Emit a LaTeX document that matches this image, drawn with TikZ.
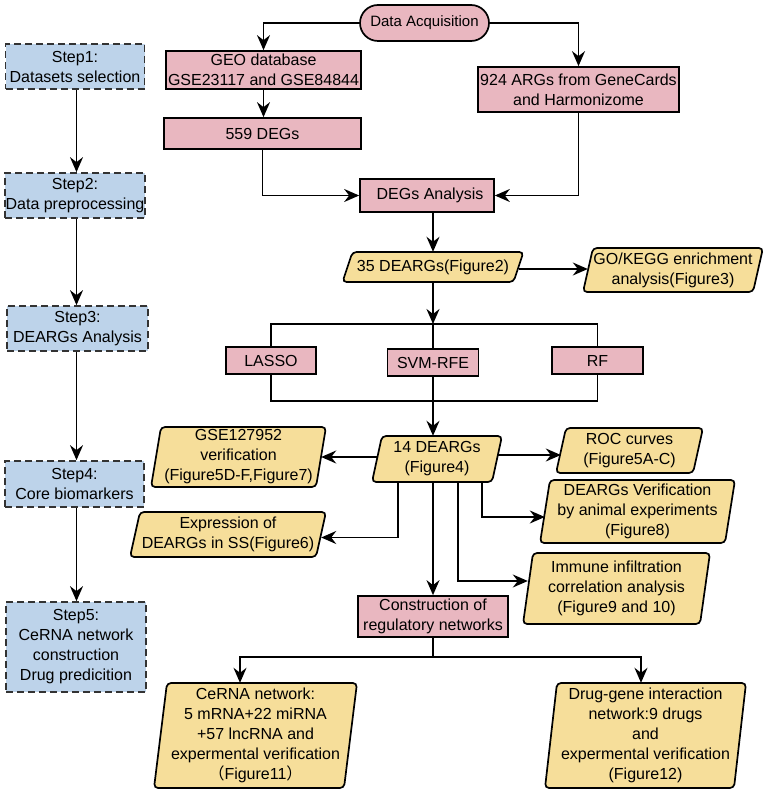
\documentclass[tikz,border=0pt]{standalone}
\usepackage{fontspec}
\setmainfont{Liberation Sans}
\newfontfamily\cjkfont{Noto Sans CJK SC}
\usetikzlibrary{arrows.meta}
\definecolor{pinkfill}{RGB}{233,183,192}
\definecolor{yellowfill}{RGB}{246,222,154}
\definecolor{bluefill}{RGB}{189,211,234}
\newcommand\parabox[7]{%
  \path[parashape] ({#2-#4/2-#6/2},{#3+#5/2}) -- ({#2+#4/2-#6/2},{#3+#5/2}) -- ({#2+#4/2+#6/2},{#3-#5/2}) -- ({#2-#4/2+#6/2},{#3-#5/2}) -- cycle;
  \node[paranode, minimum width=#4pt, minimum height=#5pt] (#1) at (#2,#3) {#7};}
\begin{document}
\begin{tikzpicture}[x=1pt,y=-1pt, font=\fontsize{16}{20}\selectfont,
  arr/.style={-{Stealth[length=15pt,width=13pt,inset=5pt]}, line width=1.7pt},
  conn/.style={line width=1.7pt},
  pinkbox/.style={draw, line width=1.7pt, fill=pinkfill, inner sep=0pt, align=center},
  stepbox/.style={draw=black!80, dash pattern=on 7pt off 4pt, line width=1.7pt, fill=bluefill, inner sep=0pt, align=center},
  paranode/.style={inner sep=0pt, align=center},
  parashape/.style={draw, line width=1.7pt, fill=yellowfill, rounded corners=4pt}]
\useasboundingbox (0,0) rectangle (767,794);

% step boxes
\node[stepbox, minimum width=139pt, minimum height=45pt] (s1) at (75,66.5) {Step1:\\Datasets selection};
\node[stepbox, minimum width=140pt, minimum height=45pt] (s2) at (75,195.5) {Step2:\\Data preprocessing};
\node[stepbox, minimum width=141pt, minimum height=45pt] (s3) at (77.5,328.5) {Step3:\\DEARGs Analysis};
\node[stepbox, minimum width=139pt, minimum height=46pt] (s4) at (74.5,484) {Step4:\\Core biomarkers};
\node[stepbox, minimum width=140pt, minimum height=90pt] (s5) at (76,647) {Step5:\\CeRNA network\\construction\\Drug predicition};
\coordinate (stepx) at (76.5,0);
\draw[arr] (stepx |- s1.south) -- (stepx |- s2.north);
\draw[arr] (stepx |- s2.south) -- (stepx |- s3.north);
\draw[arr] (stepx |- s3.south) -- (stepx |- s4.north);
\draw[arr] (stepx |- s4.south) -- (stepx |- s5.north);

% pink boxes
\node[pinkbox, rounded corners=18pt, minimum width=129pt, minimum height=36pt, font=\fontsize{15}{18}\selectfont] (acq) at (424.5,23) {Data Acquisition};
\node[pinkbox, minimum width=195pt, minimum height=38pt] (geo) at (263.5,70) {GEO database\\GSE23117 and GSE84844};
\node[pinkbox, minimum width=197pt, minimum height=31pt] (deg) at (262.5,133.5) {559 DEGs};
\node[pinkbox, minimum width=201pt, minimum height=45pt] (arg) at (578.5,89.5) {924 ARGs from GeneCards\\and Harmonizome};
\node[pinkbox, minimum width=134pt, minimum height=33pt] (dega) at (427,195.5) {\hspace{6pt}DEGs Analysis};
\node[pinkbox, minimum width=90pt, minimum height=27pt] (lasso) at (271,360.5) {LASSO};
\node[pinkbox, minimum width=91pt, minimum height=27pt] (svm) at (433,362.5) {SVM-RFE};
\node[pinkbox, minimum width=91pt, minimum height=27pt] (rf) at (597.5,360.5) {RF};
\node[pinkbox, minimum width=150pt, minimum height=41pt] (cons) at (433,616.5) {Construction of\\regulatory networks};

% yellow parallelograms
\parabox{d35}{433}{267}{171}{30}{10}{35 DEARGs(Figure2)}
\parabox{go}{673}{270}{170}{44}{10}{GO/KEGG enrichment\\analysis(Figure3)}
\parabox{gse}{238.5}{457}{165}{60}{10}{GSE127952\\verification\\(Figure5D-F,Figure7)}
\parabox{d14}{437}{459}{120}{46}{10}{14 DEARGs\\(Figure4)}
\parabox{expr}{228}{534.5}{186}{45}{10}{Expression of\\DEARGs in SS(Figure6)}
\parabox{roc}{629.5}{450.5}{137}{45}{10}{ROC curves\\(Figure5A-C)}
\parabox{ver}{637.5}{511.5}{185}{63}{10}{DEARGs Verification\\by animal experiments\\(Figure8)}
\parabox{imm}{616.5}{588.5}{177}{71}{10}{Immune infiltration\\correlation analysis\\(Figure9 and 10)}
\parabox{cer}{255.5}{735.5}{190}{105}{13}{CeRNA network:\\5 mRNA+22 miRNA\\+57 lncRNA and\\expermental verification\\{\cjkfont （}Figure11{\cjkfont ）}}
\parabox{drug}{645.5}{735.5}{189}{105}{12}{Drug-gene interaction\\network:9 drugs\\and\\expermental verification\\(Figure12)}

% connectors
\coordinate (split) at (433,324);
\coordinate (merge) at (433,401);
\coordinate (split2) at (433,657);
\draw[arr] (acq.west) -| (geo.north);
\draw[arr] (acq.east) -| (arg.north);
\draw[arr] (geo.south) -- (geo.south |- deg.north);
\draw[arr] (deg.south) |- (dega.west);
\draw[arr] (arg.south) |- (dega.east);
\draw[arr] (d35.north |- dega.south) -- (d35.north);
\draw[arr] ([yshift=-2pt]d35.east) -- ([yshift=-2pt]d35.east -| go.west);
\draw[arr] (split |- d35.south) -- (split);
\draw[conn] (lasso.north) |- (split) -| (rf.north);
\draw[conn] (svm.north) -- (svm.north |- split);
\draw[conn] (lasso.south) |- (merge) -| (rf.south);
\draw[arr] (svm.south) -- (svm.south |- d14.north);
\draw[arr] ([yshift=2pt]d14.west) -- ([yshift=2pt]d14.west -| gse.east);
\draw[arr] ([yshift=4pt]d14.east) -- ([yshift=4pt]d14.east -| roc.west);
\draw[arr] ([xshift=-39pt]d14.south) |- ([yshift=-3pt]expr.east);
\draw[arr] ([xshift=45pt]d14.south) |- ([yshift=-5.5pt]ver.west);
\draw[arr] ([xshift=21pt]d14.south) |- ([yshift=7.5pt]imm.west);
\draw[arr] (cons.north |- d14.south) -- (cons.north);
\draw[conn] (cons.south) -- (split2);
\draw[arr] (split2) -| ([xshift=-15.5pt]cer.north);
\draw[arr] (split2) -| ([xshift=-4.5pt]drug.north);
\end{tikzpicture}
\end{document}
